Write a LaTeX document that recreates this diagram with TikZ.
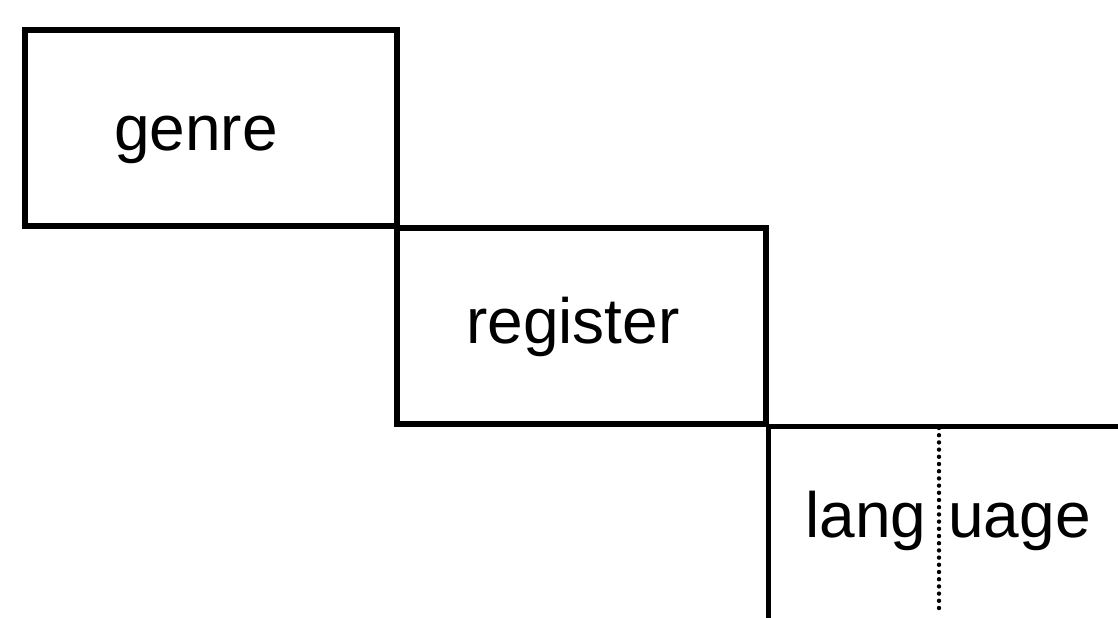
\documentclass[tikz,border=0pt]{standalone}
\usepackage{fontspec}
\setmainfont{Liberation Sans}
\begin{document}
\begin{tikzpicture}[x=0.5pt,y=-0.5pt,
  frame/.style={draw=black, line width=2.8pt},
  stratum/.style={frame, anchor=north west, inner sep=0pt, minimum height=98pt},
  lbl/.style={font=\fontsize{32}{38}\selectfont, inner sep=0pt, anchor=base},
  splitline/.style={draw=black, line width=2.2pt, line cap=round, dash pattern=on 0pt off 3.6pt}]
\useasboundingbox (0,0) rectangle (1118,617);

% the two upper strata as boxes, stepping down to the right
\node[stratum, minimum width=186pt] (genre) at (22,27) {};
\node[stratum, minimum width=184.5pt] (register) at (394,225) {};

% language: open frame running off the lower right
\coordinate (langR) at (1125,423);
\coordinate (langB) at (763,625);
\draw[frame] (register.south east) -- (register.south east -| langR);
\draw[frame] (register.south east) -- (register.south east |- langB);

% dotted split inside the language stratum
\coordinate (splitT) at (939,428);
\coordinate (splitB) at (939,610);
\draw[splitline] (splitT) -- (splitB);

% labels
\node[lbl] (tgenre) at (196,150) {genre};
\node[lbl] (tregister) at (573,343) {register};
\node[lbl, anchor=base west] (tlang) at (805,537) {lang};
\node[lbl, anchor=base west] (tuage) at (948,537) {uage};
\end{tikzpicture}
\end{document}
